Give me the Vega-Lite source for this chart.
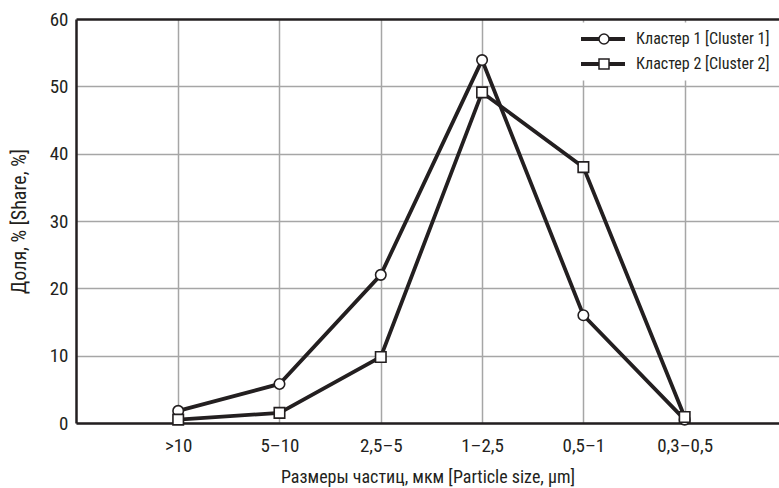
{
  "$schema": "https://vega.github.io/schema/vega-lite/v6.json",
  "width": 703,
  "height": 404,
  "autosize": "none",
  "padding": {"left": 76, "top": 19, "right": 0, "bottom": 65},
  "background": "white",
  "config": {
    "font": "Roboto Condensed, Liberation Sans Narrow, DejaVu Sans Condensed, sans-serif",
    "view": {"stroke": null},
    "axis": {
      "labelFontSize": 19,
      "labelColor": "#231f20",
      "titleFontSize": 18,
      "titleFontWeight": "normal",
      "titleColor": "#231f20",
      "domainColor": "#231f20",
      "domainWidth": 2.5,
      "ticks": false,
      "gridColor": "#a6a6a6",
      "gridWidth": 1.5,
      "gridOpacity": 1
    }
  },
  "data": {
    "values": [
      {"cluster": "Кластер 1 [Cluster 1]", "size": ">10", "share": 1.8},
      {"cluster": "Кластер 1 [Cluster 1]", "size": "5–10", "share": 5.8},
      {"cluster": "Кластер 1 [Cluster 1]", "size": "2,5–5", "share": 22},
      {"cluster": "Кластер 1 [Cluster 1]", "size": "1–2,5", "share": 53.9},
      {"cluster": "Кластер 1 [Cluster 1]", "size": "0,5–1", "share": 16},
      {"cluster": "Кластер 1 [Cluster 1]", "size": "0,3–0,5", "share": 0.5},
      {"cluster": "Кластер 2 [Cluster 2]", "size": ">10", "share": 0.5},
      {"cluster": "Кластер 2 [Cluster 2]", "size": "5–10", "share": 1.5},
      {"cluster": "Кластер 2 [Cluster 2]", "size": "2,5–5", "share": 9.8},
      {"cluster": "Кластер 2 [Cluster 2]", "size": "1–2,5", "share": 49.1},
      {"cluster": "Кластер 2 [Cluster 2]", "size": "0,5–1", "share": 38},
      {"cluster": "Кластер 2 [Cluster 2]", "size": "0,3–0,5", "share": 0.9}
    ]
  },
  "encoding": {
    "x": {
      "field": "size",
      "type": "ordinal",
      "sort": null,
      "scale": {"type": "point", "padding": 0.97, "align": 0.52},
      "axis": {
        "title": "Размеры частиц, мкм [Particle size, µm]",
        "labelAngle": 0,
        "labelPadding": 13,
        "titlePadding": 13,
        "grid": true
      }
    },
    "y": {
      "field": "share",
      "type": "quantitative",
      "scale": {"domain": [0, 60], "nice": false, "zero": true},
      "axis": {
        "title": "Доля, % [Share, %]",
        "titleFontSize": 20,
        "values": [0, 10, 20, 30, 40, 50, 60],
        "labelPadding": 8,
        "titlePadding": 20,
        "grid": true,
        "gridColor": {"condition": {"test": "datum.value === 60", "value": "#231f20"}, "value": "#a6a6a6"},
        "gridWidth": {"condition": {"test": "datum.value === 60", "value": 2.5}, "value": 1.5}
      }
    }
  },
  "layer": [
    {
      "mark": {"type": "line", "strokeWidth": 3.8, "strokeJoin": "miter"},
      "encoding": {
        "color": {
          "field": "cluster",
          "type": "nominal",
          "scale": {"range": ["#231f20", "#231f20"]},
          "legend": {
            "title": null,
            "orient": "none",
            "legendX": 499,
            "legendY": 3.5,
            "padding": 4,
            "fillColor": "white",
            "symbolType": "stroke",
            "symbolSize": 1936,
            "symbolStrokeWidth": 4,
            "symbolStrokeColor": "#231f20",
            "clipHeight": 25,
            "rowPadding": 0,
            "labelOffset": 9,
            "labelFontSize": 16,
            "labelColor": "#231f20",
            "labelLimit": 300
          }
        }
      }
    },
    {
      "mark": {"type": "point", "filled": true, "fill": "white", "stroke": "#231f20", "strokeWidth": 1.6, "size": 110, "opacity": 1},
      "encoding": {
        "shape": {
          "field": "cluster",
          "type": "nominal",
          "scale": {"domain": ["Кластер 1 [Cluster 1]", "Кластер 2 [Cluster 2]"], "range": ["circle", "square"]},
          "legend": {
            "title": null,
            "orient": "none",
            "legendX": 516,
            "legendY": 3.5,
            "padding": 4,
            "fillColor": null,
            "symbolSize": 100,
            "clipHeight": 25,
            "rowPadding": 0,
            "labelExpr": "''",
            "labelFontSize": 16,
            "encode": {
              "symbols": {
                "update": {
                  "fill": {"value": "white"},
                  "stroke": {"value": "#231f20"},
                  "strokeWidth": {"value": 1.6},
                  "opacity": {"value": 1}
                }
              }
            }
          }
        }
      }
    }
  ]
}
